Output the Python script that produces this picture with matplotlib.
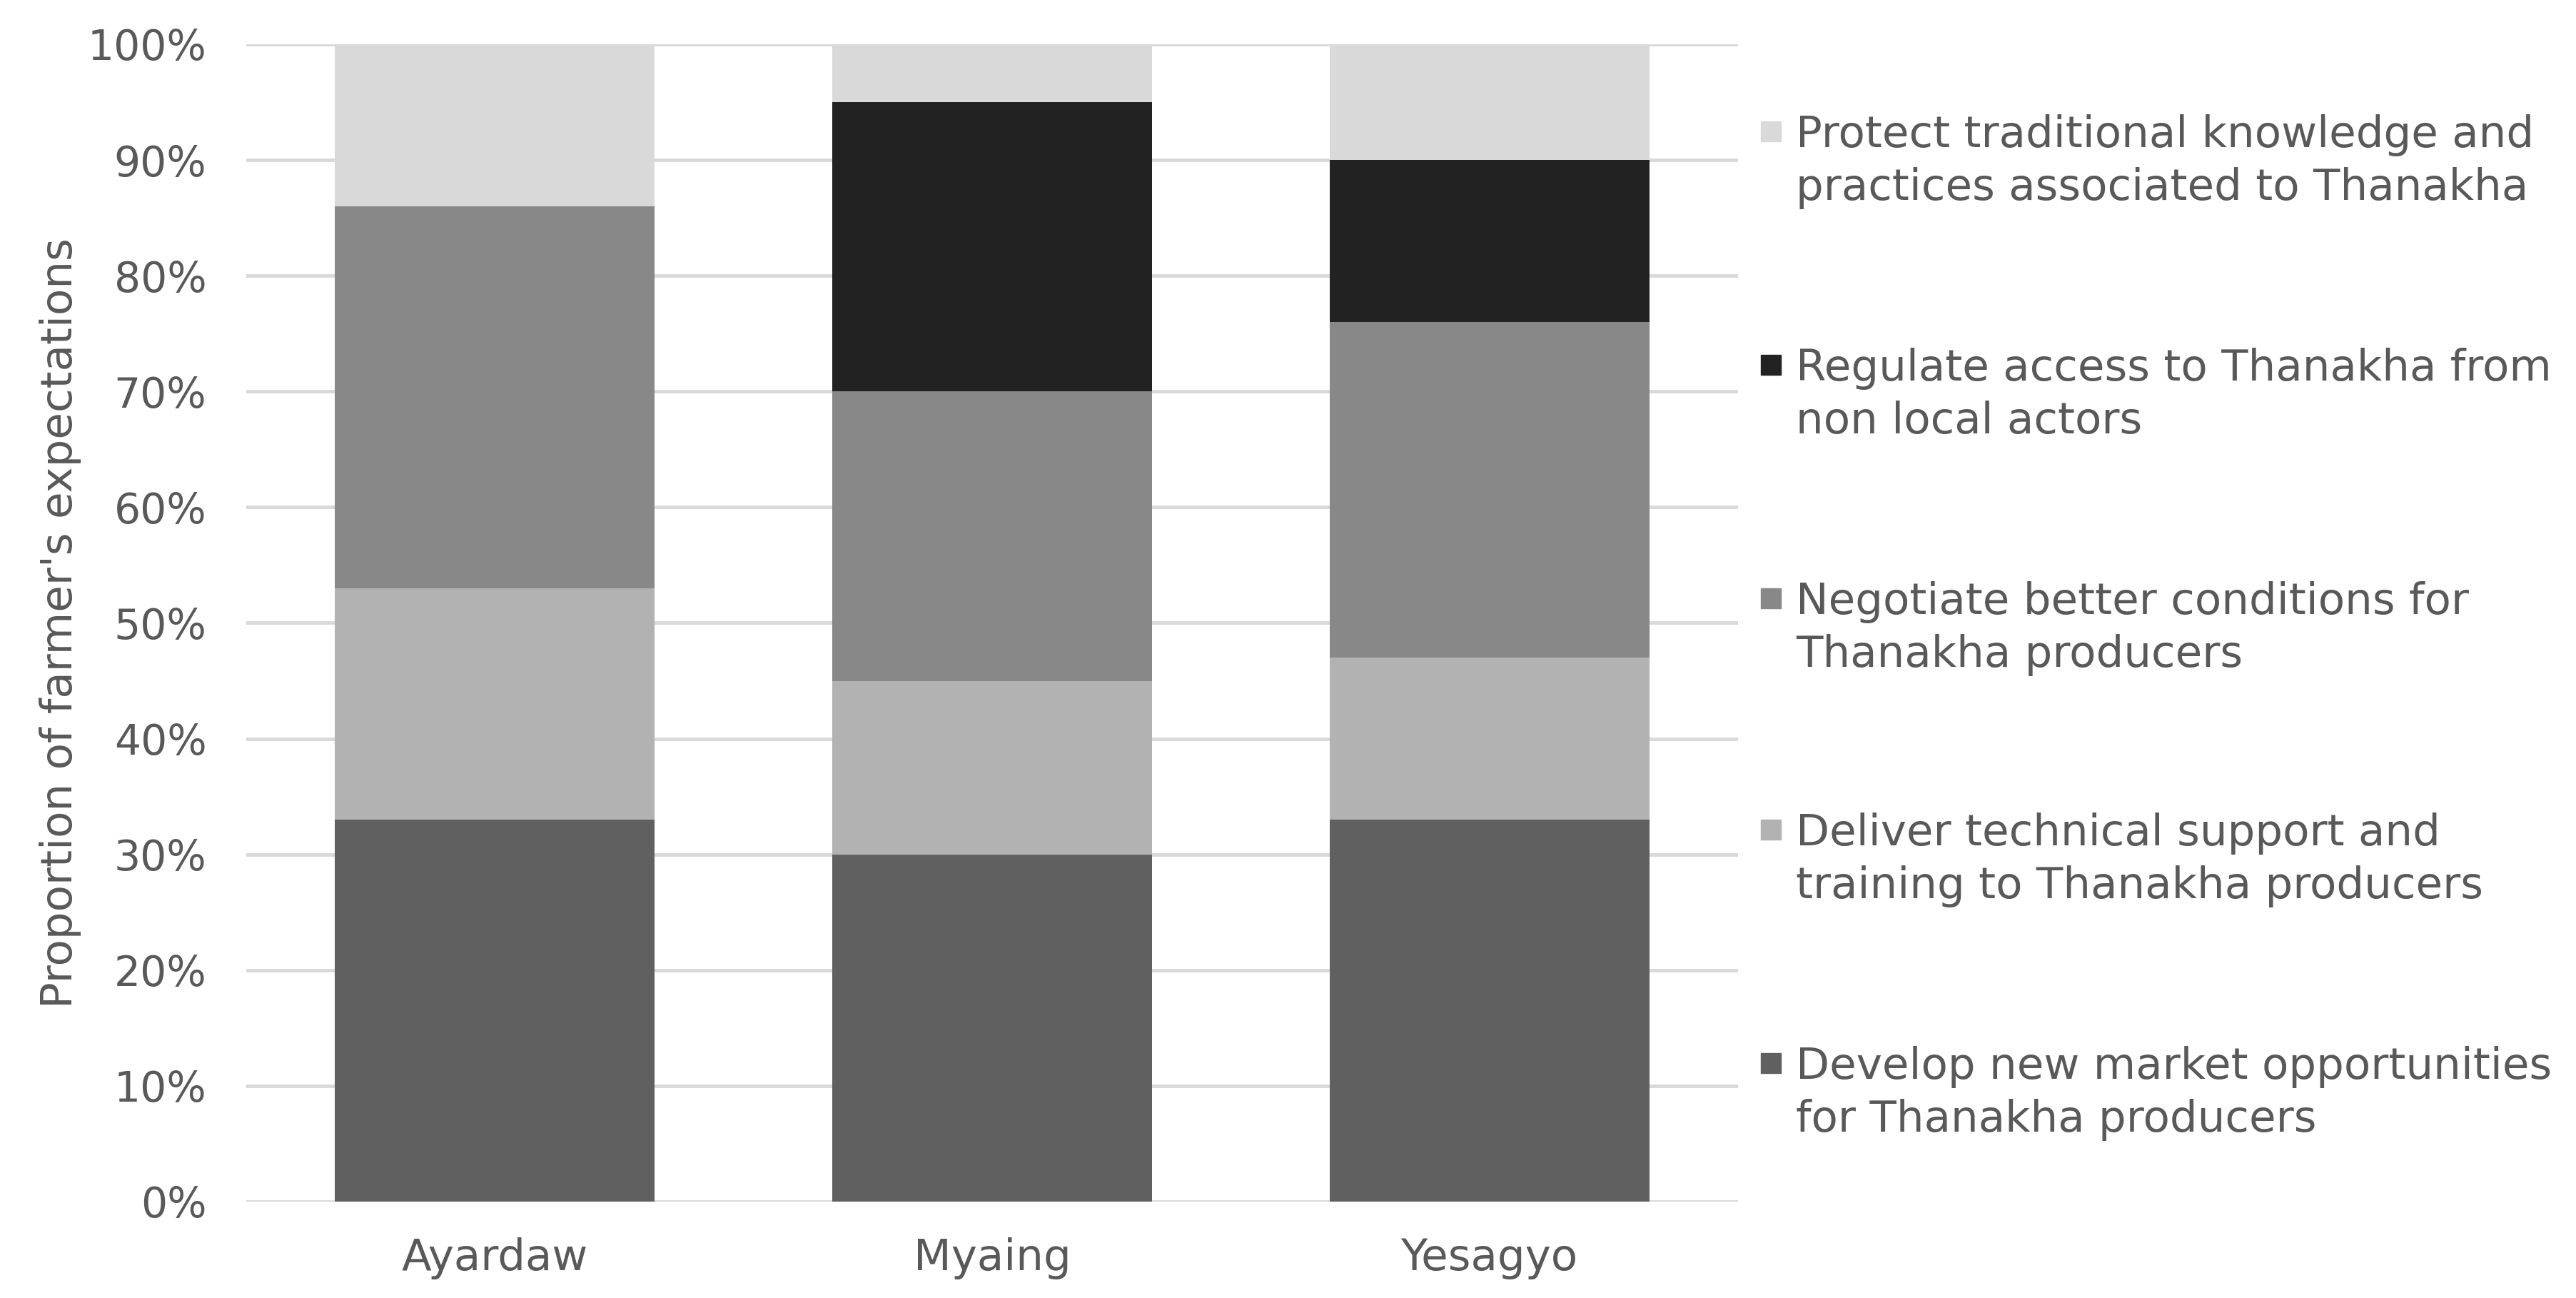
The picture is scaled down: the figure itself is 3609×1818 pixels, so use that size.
import numpy as np
import matplotlib.pyplot as plt
from matplotlib.patches import Rectangle
from matplotlib.ticker import PercentFormatter

# data (percent of farmers)
sites = ['Ayardaw', 'Myaing', 'Yesagyo']
develop = [33, 30, 33]
deliver = [20, 15, 14]
negotiate = [33, 25, 29]
regulate = [0, 25, 14]
protect = [14, 5, 10]

series = [develop, deliver, negotiate, regulate, protect]
names = ['Develop new market opportunities\nfor Thanakha producers',
         'Deliver technical support and\ntraining to Thanakha producers',
         'Negotiate better conditions for\nThanakha producers',
         'Regulate access to Thanakha from\nnon local actors',
         'Protect traditional knowledge and\npractices associated to Thanakha']
colors = ['#606060', '#b2b2b2', '#888888', '#222222', '#d9d9d9']

txt = '#595959'
plt.rcParams['font.family'] = ['DejaVu Sans']

fig = plt.figure(figsize=(36.09, 18.18), dpi=100)
ax = fig.add_axes([0.0956, 0.0743, 0.5791, 0.8916])

x = np.arange(len(sites))
bottom = np.zeros(len(sites))
for vals, c in zip(series, colors):
    ax.bar(x, vals, bottom=bottom, width=0.643, color=c, zorder=3)
    bottom += np.array(vals)

ax.set_xlim(-0.5, 2.5)
ax.set_ylim(0, 100)
ax.set_yticks(np.arange(0, 101, 10))
ax.yaxis.set_major_formatter(PercentFormatter(decimals=0))
ax.grid(axis='y', color='#d9d9d9', linewidth=3.5, zorder=0)
for s in ax.spines.values():
    s.set_visible(False)
ax.tick_params(axis='both', length=0, colors=txt)
ax.tick_params(axis='y', pad=40, labelsize=42)
ax.tick_params(axis='x', pad=36, labelsize=44)
ax.set_xticks(x)
ax.set_xticklabels(sites)
ax.set_ylabel("Proportion of farmer's expectations", fontsize=44, color=txt, labelpad=6)

# legend drawn by hand so the square sits next to the first line
first_line = [1489, 1162, 838, 511, 184]
for name, c, yl in zip(names, colors, first_line):
    yf = 1 - yl / 1818
    fig.patches.append(Rectangle((2467 / 3609, yf - 14 / 1818), 28 / 3609, 28 / 1818,
                                 transform=fig.transFigure, color=c))
    fig.text(2516 / 3609, yf - (22 + 74) / 1818, name, fontsize=44, color=txt,
             va='baseline', ha='left', linespacing=1.33)

fig.savefig('out.png', dpi=100, facecolor='white')
